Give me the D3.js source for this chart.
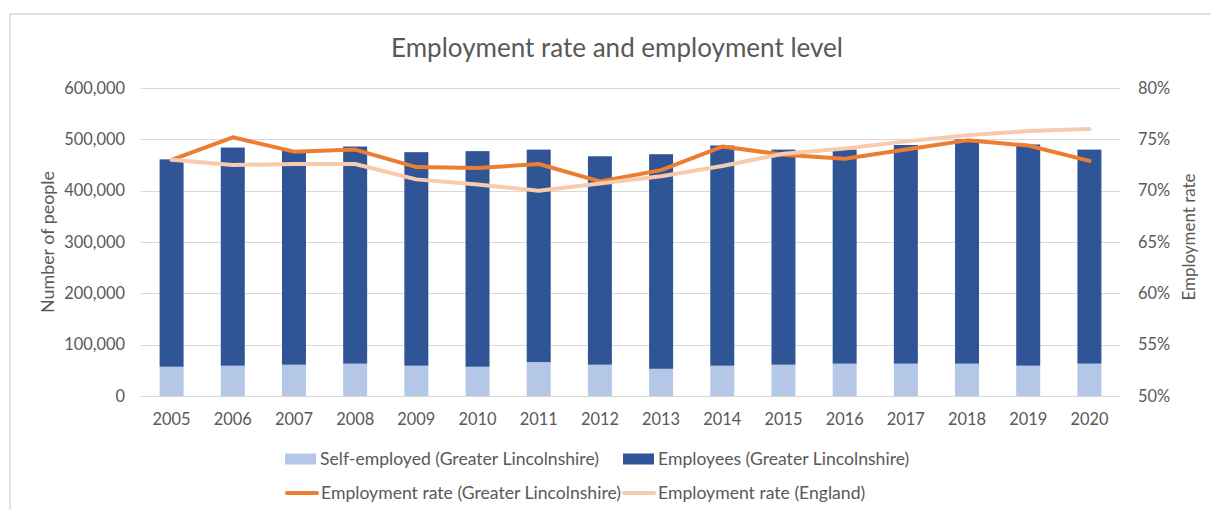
<!DOCTYPE html>
<html>
<head>
<meta charset="utf-8">
<script src="https://cdn.jsdelivr.net/npm/d3@7"></script>
<style>
  html, body { margin: 0; padding: 0; background: #fff; }
  svg { display: block; }
  text { font-family: Lato, "Open Sans", sans-serif; fill: #595959; }
</style>
</head>
<body>
<svg id="chart" width="1211" height="510"></svg>
<script>
// Employment level (people) and employment rate (%) by year
const years = ["2005","2006","2007","2008","2009","2010","2011","2012","2013","2014","2015","2016","2017","2018","2019","2020"];
const selfEmployed = [57000, 59000, 61000, 63000, 59000, 57000, 66000, 61000, 53000, 59000, 61000, 63000, 63000, 63000, 59000, 63000];
const employees    = [404000, 425000, 418000, 423000, 416000, 420000, 414000, 406000, 418000, 429000, 419000, 417000, 426000, 437000, 431000, 417000];
const rateLincs    = [73.0, 75.2, 73.8, 74.0, 72.3, 72.2, 72.6, 70.9, 72.0, 74.3, 73.5, 73.1, 74.0, 74.9, 74.4, 72.9];
const rateEngland  = [73.0, 72.5, 72.6, 72.6, 71.1, 70.6, 70.0, 70.7, 71.4, 72.4, 73.6, 74.1, 74.8, 75.4, 75.8, 76.0];
const leftTicks  = [0, 100000, 200000, 300000, 400000, 500000, 600000];
const rightTicks = [50, 55, 60, 65, 70, 75, 80];

const colors = {
  self: "#B4C7E7",
  emp: "#2F5597",
  lincs: "#ED7D31",
  eng: "#F8CBAD",
  grid: "#D9D9D9"
};

const svg = d3.select("#chart");
const plot = { left: 141, right: 1120, top: 88, bottom: 396 };

// scale a text's font size so the string spans the given width
function fitWidth(sel, width) {
  const node = sel.node();
  const base = parseFloat(sel.style("font-size"));
  const w = node.getComputedTextLength();
  const size = base * width / w;
  sel.style("font-size", size + "px");
  return size;
}

// chart frame
svg.append("rect")
  .attr("x", 10).attr("y", 14)
  .attr("width", 1300).attr("height", 600)
  .attr("fill", "none")
  .attr("stroke", "#D9D9D9")
  .attr("stroke-width", 1.5);

const x = d3.scaleBand()
  .domain(years)
  .range([plot.left, plot.right])
  .paddingInner(0.608)
  .paddingOuter(0.304);

const yLeft = d3.scaleLinear().domain([0, 600000]).range([plot.bottom, plot.top]);
const yRight = d3.scaleLinear().domain([50, 80]).range([plot.bottom, plot.top]);

// gridlines
svg.append("g")
  .selectAll("line")
  .data(leftTicks)
  .join("line")
  .attr("x1", plot.left).attr("x2", plot.right)
  .attr("y1", d => Math.round(yLeft(d)) + 0.5)
  .attr("y2", d => Math.round(yLeft(d)) + 0.5)
  .attr("stroke", colors.grid)
  .attr("stroke-width", 1);

// left axis labels
const axisL = svg.append("g")
  .attr("transform", `translate(${plot.left - 16},0)`)
  .call(d3.axisLeft(yLeft).tickValues(leftTicks).tickSize(0).tickPadding(0)
        .tickFormat(d => d3.format(",")(d)));
axisL.select(".domain").remove();
axisL.selectAll("text").style("font-size", "16.4px").attr("fill", "#595959");

// right axis labels
const axisR = svg.append("g")
  .attr("transform", `translate(${plot.right + 18},0)`)
  .call(d3.axisRight(yRight).tickValues(rightTicks).tickSize(0).tickPadding(0)
        .tickFormat(d => d + "%"));
axisR.select(".domain").remove();
axisR.selectAll("text").style("font-size", "16.4px").attr("fill", "#595959");

// bottom axis labels
const axisB = svg.append("g")
  .attr("transform", `translate(0,${plot.bottom + 17})`)
  .call(d3.axisBottom(x).tickSize(0).tickPadding(0));
axisB.select(".domain").remove();
axisB.selectAll("text").style("font-size", "16.4px").attr("fill", "#595959");

// stacked bars
const rows = years.map((yr, i) => ({ year: yr, self: selfEmployed[i], emp: employees[i] }));
const stack = d3.stack().keys(["self", "emp"])(rows);
svg.append("g")
  .selectAll("g")
  .data(stack)
  .join("g")
  .attr("fill", d => colors[d.key])
  .selectAll("rect")
  .data(d => d)
  .join("rect")
  .attr("x", d => x(d.data.year))
  .attr("width", x.bandwidth())
  .attr("y", d => yLeft(d[1]))
  .attr("height", d => yLeft(d[0]) - yLeft(d[1]));

// rate lines
const cx = yr => x(yr) + x.bandwidth() / 2;
const lineGen = d3.line()
  .x((d, i) => cx(years[i]))
  .y(d => yRight(d));

svg.append("path")
  .datum(rateLincs)
  .attr("d", lineGen)
  .attr("fill", "none")
  .attr("stroke", colors.lincs)
  .attr("stroke-width", 4)
  .attr("stroke-linejoin", "round")
  .attr("stroke-linecap", "round");

svg.append("path")
  .datum(rateEngland)
  .attr("d", lineGen)
  .attr("fill", "none")
  .attr("stroke", colors.eng)
  .attr("stroke-width", 4)
  .attr("stroke-linejoin", "round")
  .attr("stroke-linecap", "round");

// title
const title = svg.append("text")
  .attr("x", 617).attr("y", 57)
  .attr("text-anchor", "middle")
  .style("font-size", "24.5px")
  .text("Employment rate and employment level");
fitWidth(title, 452);

// axis titles
const yTitleL = svg.append("text")
  .attr("transform", `translate(54,242) rotate(-90)`)
  .attr("text-anchor", "middle")
  .style("font-size", "16.4px")
  .text("Number of people");
fitWidth(yTitleL, 142);

const yTitleR = svg.append("text")
  .attr("transform", `translate(1195,237) rotate(-90)`)
  .attr("text-anchor", "middle")
  .style("font-size", "16.4px")
  .text("Employment rate");
fitWidth(yTitleR, 127);

// legend: two columns, two rows
const legendItems = [
  { label: "Self-employed (Greater Lincolnshire)", type: "rect", color: colors.self, x: 285, y: 459 },
  { label: "Employees (Greater Lincolnshire)", type: "rect", color: colors.emp, x: 623, y: 459 },
  { label: "Employment rate (Greater Lincolnshire)", type: "line", color: colors.lincs, x: 286, y: 493 },
  { label: "Employment rate (England)", type: "line", color: colors.eng, x: 623, y: 493 }
];
const lg = svg.append("g").selectAll("g").data(legendItems).join("g")
  .attr("transform", d => `translate(${d.x},${d.y})`);
lg.filter(d => d.type === "rect").append("rect")
  .attr("x", 0).attr("y", -5.5).attr("width", 31).attr("height", 11)
  .attr("fill", d => d.color);
lg.filter(d => d.type === "line").append("line")
  .attr("x1", 1).attr("x2", 31).attr("y1", 0).attr("y2", 0)
  .attr("stroke", d => d.color).attr("stroke-width", 4)
  .attr("stroke-linecap", "round");
const legendText = lg.append("text")
  .attr("x", 35).attr("dy", "0.35em")
  .style("font-size", "16.4px")
  .text(d => d.label);
const legendSize = fitWidth(legendText.filter((d, i) => i === 0), 279);
legendText.style("font-size", legendSize + "px");
</script>
</body>
</html>
